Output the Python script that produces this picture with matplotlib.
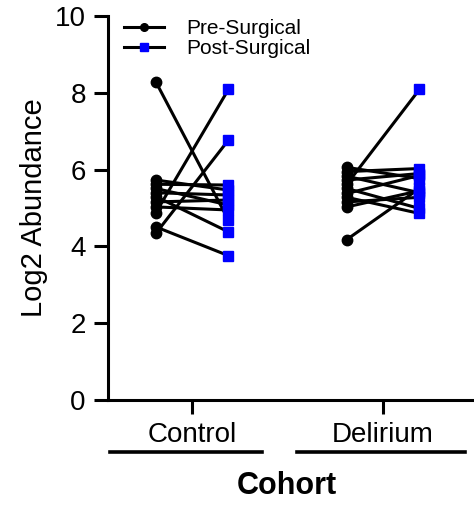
import matplotlib
matplotlib.use('Agg')
import matplotlib.pyplot as plt
from matplotlib.lines import Line2D

plt.rcParams['font.family'] = ['Liberation Sans', 'DejaVu Sans']

# 数据
groups = ["Control", "Delirium"]
control_pre = [8.29, 4.51, 4.34, 4.88, 5.73, 5.62, 5.51, 5.40, 5.30, 5.16, 5.03]
control_post = [4.69, 3.76, 6.77, 8.09, 5.47, 5.60, 5.08, 5.34, 4.38, 5.21, 4.95]
delirium_pre = [4.18, 5.62, 6.06, 5.95, 5.83, 5.73, 5.51, 5.38, 5.28, 5.16, 5.03]
delirium_post = [5.51, 8.09, 5.77, 6.03, 5.40, 5.90, 4.99, 5.85, 4.86, 5.28, 5.45]
yticks = [0, 2, 4, 6, 8, 10]

fig = plt.figure(figsize=(4.74, 5.05), dpi=100)
ax = fig.add_axes([0.228, 0.208, 0.768, 0.760])

off = 0.19
lw = 2.2
for i, (pre, post) in enumerate([(control_pre, control_post), (delirium_pre, delirium_post)]):
    for a, b in zip(pre, post):
        ax.plot([i - off, i + off], [a, b], color='black', lw=lw, zorder=2)
    ax.plot([i - off] * len(pre), pre, 'o', color='black', ms=7.5, zorder=3, clip_on=False)
    ax.plot([i + off] * len(post), post, 's', color='#0000ff', ms=7, zorder=3, clip_on=False)

ax.set_xlim(-0.44, 1.466)
ax.set_ylim(0, 10)
ax.set_yticks(yticks)
ax.set_xticks([0, 1])
ax.set_xticklabels(groups)

for s in ['top', 'right']:
    ax.spines[s].set_visible(False)
for s in ['left', 'bottom']:
    ax.spines[s].set_linewidth(2.2)
ax.tick_params(axis='both', width=2.2, length=10, labelsize=20)
ax.tick_params(axis='y', pad=6)
ax.tick_params(axis='x', pad=6)

# 组下划线
trans = ax.get_xaxis_transform()
for x0, x1 in [(-0.43, 0.366), (0.55, 1.43)]:
    ax.plot([x0, x1], [-0.135, -0.135], color='black', lw=2.6, transform=trans, clip_on=False)

ax.set_ylabel("Log2 Abundance", fontsize=21)
ax.yaxis.set_label_coords(-0.165, 0.5)
ax.set_xlabel("Cohort", fontsize=22, fontweight='bold')
ax.xaxis.set_label_coords(0.49, -0.185)

handles = [
    Line2D([], [], color='black', lw=lw, marker='o', ms=5.5),
    Line2D([], [], color='black', lw=lw, marker='s', ms=5.5, mfc='#0000ff', mec='#0000ff'),
]
ax.legend(handles, ["Pre-Surgical", "Post-Surgical"], loc='upper left',
          bbox_to_anchor=(0.015, 1.02), frameon=False, fontsize=15,
          handlelength=1.9, handletextpad=1.1, labelspacing=0.05, borderpad=0)

plt.savefig('out.png', dpi=100)
plt.close(fig)
